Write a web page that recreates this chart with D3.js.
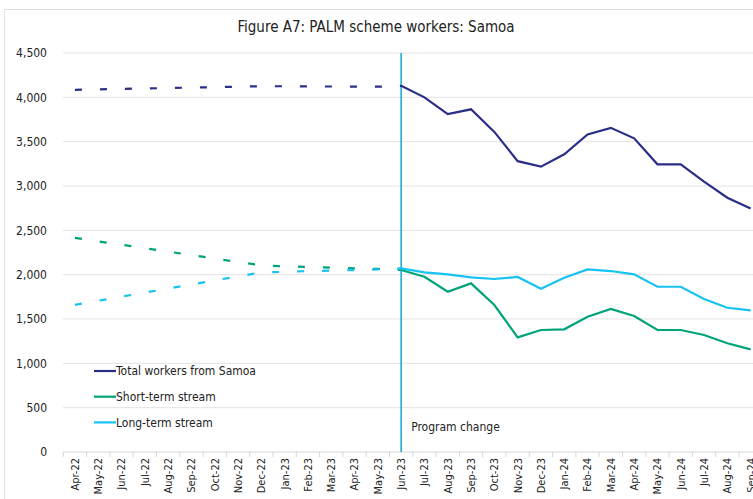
<!DOCTYPE html>
<html>
<head>
<meta charset="utf-8">
<script src="https://cdn.jsdelivr.net/npm/d3@7"></script>
<style>
  body { margin: 0; background: #fff; }
  text { font-family: "DejaVu Sans Condensed", "DejaVu Sans", sans-serif; fill: #222; }
</style>
</head>
<body>
<div id="chart"></div>
<script>
// months on the x axis
const months = ["Apr-22","May-22","Jun-22","Jul-22","Aug-22","Sep-22","Oct-22","Nov-22","Dec-22",
  "Jan-23","Feb-23","Mar-23","Apr-23","May-23","Jun-23","Jul-23","Aug-23","Sep-23","Oct-23","Nov-23",
  "Dec-23","Jan-24","Feb-24","Mar-24","Apr-24","May-24","Jun-24","Jul-24","Aug-24","Sep-24"]

// before program change (dashed), Apr-22 .. Jun-23
const totalBefore = [4085,4090,4095,4100,4105,4110,4115,4120,4125,4125,4123,4122,4120,4120,4130]
const shortBefore = [2415,2376,2337,2299,2260,2221,2182,2143,2105,2095,2088,2080,2072,2065,2053]
const longBefore  = [1660,1706,1752,1798,1843,1889,1935,1981,2025,2032,2040,2046,2052,2058,2071]

// after program change (solid), Jun-23 .. Sep-24
const totalAfter = [4130,4000,3810,3865,3610,3280,3218,3358,3582,3656,3538,3245,3245,3050,2868,2745]
const shortAfter = [2053,1977,1808,1902,1658,1293,1376,1384,1526,1613,1534,1376,1376,1319,1226,1158]
const longAfter  = [2071,2026,2004,1970,1951,1974,1842,1966,2060,2041,2004,1864,1864,1725,1627,1598]

const yTicks = [0,500,1000,1500,2000,2500,3000,3500,4000,4500]
const changeMonth = "Jun-23"

const seriesNames = ["Total workers from Samoa","Short-term stream","Long-term stream"]
const colors = ["#2b2e87","#00a47a","#16c3f2"]

const width = 753, height = 499
const svg = d3.select("#chart").append("svg")
    .attr("width", width).attr("height", height)

// outer frame
svg.append("rect").attr("x", 4.5).attr("y", 9.5)
    .attr("width", 800).attr("height", 600)
    .attr("fill", "none").attr("stroke", "#e0e0e0")

svg.append("text").attr("x", 376).attr("y", 32)
    .attr("text-anchor", "middle").style("font-size", "15px")
    .text("Figure A7: PALM scheme workers: Samoa")

const x = d3.scaleBand().domain(months).range([63.3, 762.3])
const cx = m => x(m) + x.bandwidth() / 2
const y = d3.scaleLinear().domain([0, 4500]).range([452, 53])

// gridlines
svg.append("g").selectAll("line").data(yTicks.filter(d => d > 0)).enter()
    .append("line")
    .attr("x1", 63).attr("x2", 762)
    .attr("y1", d => y(d)).attr("y2", d => y(d))
    .attr("stroke", "#e3e3e3").attr("stroke-width", 1)

// y labels
svg.append("g").selectAll("text").data(yTicks).enter()
    .append("text")
    .attr("x", 47).attr("y", d => y(d)).attr("dy", "0.35em")
    .attr("text-anchor", "end").style("font-size", "12px")
    .text(d => d3.format(",")(d))

// x axis line and ticks
svg.append("line").attr("x1", 63).attr("x2", 762)
    .attr("y1", y(0)).attr("y2", y(0)).attr("stroke", "#d6d6d6")
svg.append("g").selectAll("line").data(months.concat(["end"])).enter()
    .append("line")
    .attr("x1", (d, i) => x.range()[0] + i * x.step())
    .attr("x2", (d, i) => x.range()[0] + i * x.step())
    .attr("y1", y(0)).attr("y2", y(0) + 5)
    .attr("stroke", "#d6d6d6")

svg.append("g").selectAll("text").data(months).enter()
    .append("text")
    .attr("transform", d => `translate(${cx(d)},${y(0) + 6}) rotate(-90)`)
    .attr("dy", "0.35em")
    .attr("text-anchor", "end").style("font-size", "11px")
    .text(d => d)

// program change line
svg.append("line")
    .attr("x1", cx(changeMonth)).attr("x2", cx(changeMonth))
    .attr("y1", y(4500)).attr("y2", y(0))
    .attr("stroke", "#14a6d6").attr("stroke-width", 1.5)
svg.append("text").attr("x", cx(changeMonth) + 10).attr("y", 431)
    .style("font-size", "12px").text("Program change")

const line = d3.line().x(d => cx(d.m)).y(d => y(d.v))
const beforeMonths = months.slice(0, 15)
const afterMonths = months.slice(14)

const before = [totalBefore, shortBefore, longBefore]
const after = [totalAfter, shortAfter, longAfter]

before.forEach((vals, i) => {
    svg.append("path")
        .datum(vals.map((v, j) => ({m: beforeMonths[j], v})))
        .attr("d", line)
        .attr("fill", "none").attr("stroke", colors[i])
        .attr("stroke-width", 2.2)
        .attr("stroke-dasharray", "7,18")
})
after.forEach((vals, i) => {
    svg.append("path")
        .datum(vals.map((v, j) => ({m: afterMonths[j], v})))
        .attr("d", line)
        .attr("fill", "none").attr("stroke", colors[i])
        .attr("stroke-width", 2.2)
})

// legend
const legend = svg.append("g")
seriesNames.forEach((name, i) => {
    const ly = 371 + i * 25.7
    legend.append("line").attr("x1", 94).attr("x2", 116)
        .attr("y1", ly).attr("y2", ly)
        .attr("stroke", colors[i]).attr("stroke-width", 2.2)
    legend.append("text").attr("x", 116).attr("y", ly).attr("dy", "0.35em")
        .style("font-size", "12px").text(name)
})
</script>
</body>
</html>
